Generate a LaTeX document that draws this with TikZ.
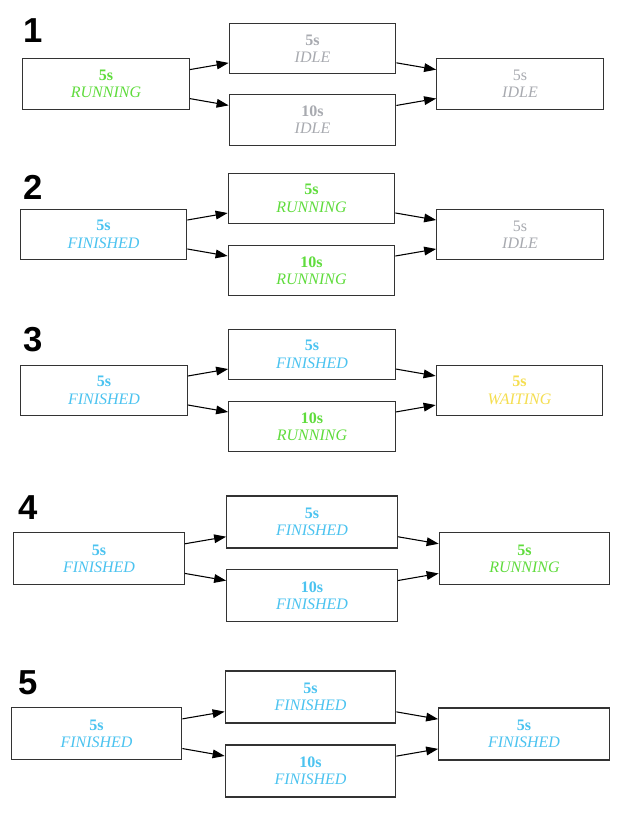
\documentclass[tikz,border=0pt]{standalone}
\usepackage{fontspec}
\setmainfont{Liberation Serif}
\newfontfamily\stepfont{Liberation Sans}
\usepackage{tikz}
\usetikzlibrary{arrows.meta}

\definecolor{runc}{RGB}{95,220,60}
\definecolor{finc}{RGB}{75,195,240}
\definecolor{idlec}{RGB}{168,170,176}
\definecolor{waitc}{RGB}{245,222,80}

\newcommand\jobtxt[2]{\textbf{#1}\\\textit{#2}}

\begin{document}
\begin{tikzpicture}[
x=0.75pt,y=-0.75pt,
job/.style={
  draw=black!80,
  line width=0.8pt,
  fill=white,
  align=center,
  minimum width=125pt,
  minimum height=38pt,
  inner sep=0pt,
  font=\fontsize{12}{13}\selectfont
  },
wide/.style={minimum width=128pt, minimum height=39pt},
run/.style={text=runc},
fin/.style={text=finc},
idle/.style={text=idlec},
wait/.style={text=waitc},
stepnum/.style={font=\stepfont\bfseries\fontsize{26}{26}\selectfont},
link/.style={-{Triangle[length=9pt,width=6.5pt]}, line width=0.8pt, black}
]
\useasboundingbox (0,0) rectangle (627,813);

% step 1
\node[stepnum] (n1) at (33,31) {1};
\node[job,run]  (l1) at (106,84)    {\jobtxt{5s}{RUNNING}};
\node[job,idle] (a1) at (312.5,48.5) {\jobtxt{5s}{IDLE}};
\node[job,idle] (b1) at (312.5,120)  {\jobtxt{10s}{IDLE}};
\node[job,idle] (r1) at (520,84)     {5s\\\textit{IDLE}};

% step 2
\node[stepnum] (n2) at (33,187) {2};
\node[job,fin]  (l2) at (103.5,234.5) {\jobtxt{5s}{FINISHED}};
\node[job,run]  (a2) at (311.5,198.5) {\jobtxt{5s}{RUNNING}};
\node[job,run]  (b2) at (311.5,270.5) {\jobtxt{10s}{RUNNING}};
\node[job,idle] (r2) at (520,234.5)   {5s\\\textit{IDLE}};

% step 3
\node[stepnum] (n3) at (33,340) {3};
\node[job,fin]  (l3) at (104,390.5)   {\jobtxt{5s}{FINISHED}};
\node[job,fin]  (a3) at (312,354.5)   {\jobtxt{5s}{FINISHED}};
\node[job,run]  (b3) at (312,426.5)   {\jobtxt{10s}{RUNNING}};
\node[job,wait] (r3) at (519.5,390.5) {\jobtxt{5s}{WAITING}};

% step 4
\node[stepnum] (n4) at (28,508) {4};
\node[job,wide,fin] (l4) at (99,558.5)    {\jobtxt{5s}{FINISHED}};
\node[job,wide,fin] (a4) at (312,522)     {\jobtxt{5s}{FINISHED}};
\node[job,wide,fin] (b4) at (312,595.5)   {\jobtxt{10s}{FINISHED}};
\node[job,wide,run] (r4) at (524.5,558.5) {\jobtxt{5s}{RUNNING}};

% step 5
\node[stepnum] (n5) at (28,683) {5};
\node[job,wide,fin] (l5) at (96.5,733.5) {\jobtxt{5s}{FINISHED}};
\node[job,wide,fin] (a5) at (310.5,697)  {\jobtxt{5s}{FINISHED}};
\node[job,wide,fin] (b5) at (310.5,771)  {\jobtxt{10s}{FINISHED}};
\node[job,wide,fin] (r5) at (524,734)    {\jobtxt{5s}{FINISHED}};

\foreach \s in {1,...,5}
  \path[link]
    (l\s) edge (a\s)
    (l\s) edge (b\s)
    (a\s) edge (r\s)
    (b\s) edge (r\s);
\end{tikzpicture}
\end{document}
